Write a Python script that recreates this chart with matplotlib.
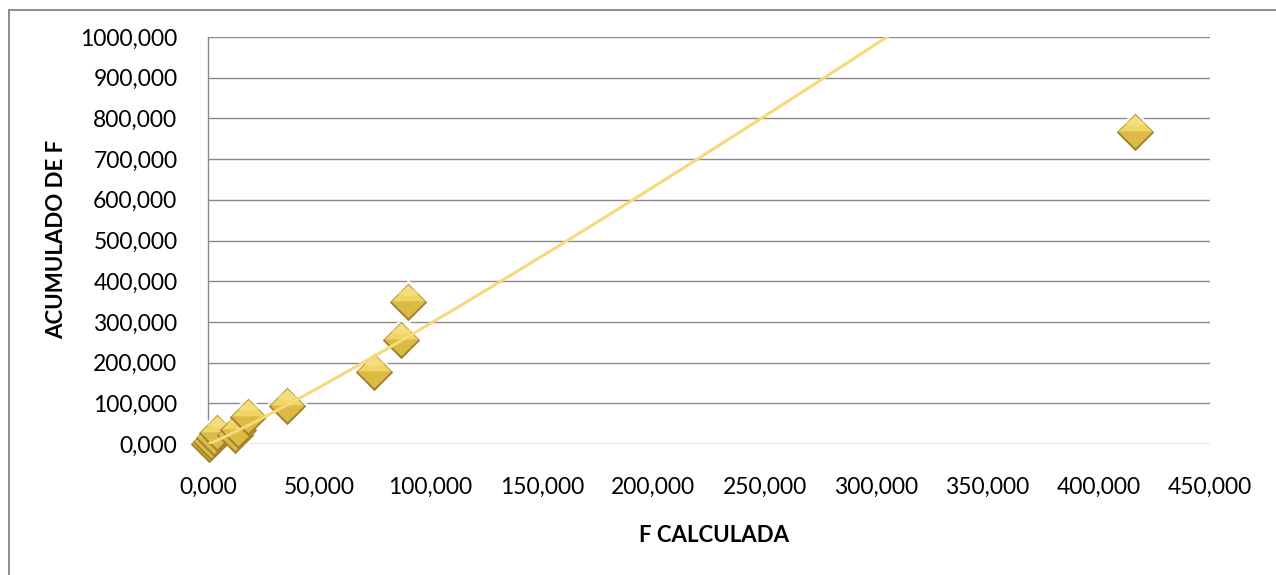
#!/usr/bin/env python3
"""
F calculada vs acumulado de F -- scatter with gold bevelled diamonds and a
power trendline, spreadsheet style.

Output: out.png
"""
import numpy as np
import matplotlib
matplotlib.use("Agg")
import matplotlib.pyplot as plt
from matplotlib.patches import Rectangle
from matplotlib.ticker import FuncFormatter, MultipleLocator

plt.rcParams.update({
    "font.family": ["Lato", "DejaVu Sans"],
    "font.size":   17,
})

GRID_GRAY   = "#8a8a8a"
FRAME_GRAY  = "#8c8c8c"
TREND_GOLD  = "#f7d87a"
RIM_GOLD    = "#a4832a"
LOW_GOLD    = "#dcba46"
TOP_GOLD    = "#f0d562"
SHINE_GOLD  = "#f7e288"

# ---------------------------------------------------------------------------
# data
# ---------------------------------------------------------------------------
F_CALCULADA = [0.3, 1.2, 2.5, 4.0, 12.0, 13.5, 18.0, 35.5, 74.6, 86.7, 89.8, 416.3]
ACUMULADO_F = [1.0, 6.0, 14.0, 28.0, 22.0, 35.0, 66.0, 93.4, 177.0, 255.5, 349.0, 766.0]

# power trendline y = a * x^b
TREND_A = 1.96
TREND_B = 1.09

X_MAX, X_STEP = 450, 50
Y_MAX, Y_STEP = 1000, 100

MS = 27.0   # diamond diagonal, points


def comma_fmt(v, _pos):
    return f"{v:.3f}".replace(".", ",")


def diamond_layer(ax, xs, ys, verts, color, zorder, scale=1.0, alpha=1.0):
    # custom marker paths are normalised by their largest coordinate, so the
    # size is rescaled to keep every layer on the same unit grid
    verts = np.asarray(verts, float)
    size = MS * scale * np.abs(verts).max()
    ax.plot(xs, ys, ls="none", marker=verts, markersize=size,
            markerfacecolor=color, markeredgewidth=0, alpha=alpha,
            zorder=zorder, clip_on=False)


def main():
    fig = plt.figure(figsize=(12.76, 5.75), dpi=100, facecolor="white")
    ax = fig.add_axes([208 / 1276, 1 - 444 / 575, 1002 / 1276, 407 / 575])

    # outer chart frame (runs off the right and bottom edges)
    fig.patches.append(Rectangle((8.5 / 1276, -0.1), 1.2, (575 - 9.5) / 575 + 0.1,
                                 transform=fig.transFigure, fill=False,
                                 edgecolor=FRAME_GRAY, lw=1.4))

    ax.set_xlim(0, X_MAX)
    ax.set_ylim(0, Y_MAX)
    ax.xaxis.set_major_locator(MultipleLocator(X_STEP))
    ax.yaxis.set_major_locator(MultipleLocator(Y_STEP))
    ax.xaxis.set_major_formatter(FuncFormatter(comma_fmt))
    ax.yaxis.set_major_formatter(FuncFormatter(comma_fmt))
    ax.tick_params(length=0, labelsize=16.5, colors="black")
    ax.tick_params(axis="x", pad=24)
    ax.tick_params(axis="y", pad=22)

    for sp in ("top", "right", "bottom"):
        ax.spines[sp].set_visible(False)
    ax.spines["left"].set_color(GRID_GRAY)
    ax.spines["left"].set_linewidth(1.0)
    ax.grid(axis="y", color=GRID_GRAY, lw=1.0, zorder=0)
    ax.set_axisbelow(True)

    xs = np.asarray(F_CALCULADA)
    ys = np.asarray(ACUMULADO_F)

    # soft white halo under each marker
    halo = [(-1, 0), (0, 1), (1, 0), (0, -1)]
    diamond_layer(ax, xs, ys, halo, "white", 3, scale=1.2, alpha=0.85)

    # bevelled diamond: dark rim, darker lower face, lighter upper face
    rim = [(-1, 0), (0, 1), (1, 0), (0, -1)]
    low = [(-0.9, 0.04), (0.9, 0.04), (0, -0.84)]
    top = [(-0.9, 0.04), (0, 0.94), (0.9, 0.04)]
    shine = [(-0.55, 0.45), (0, 0.9), (0.55, 0.45), (0, 0.3)]
    for i in range(len(xs)):
        z = 4 + i * 0.01
        diamond_layer(ax, xs[i], ys[i], rim, RIM_GOLD, z)
        diamond_layer(ax, xs[i], ys[i], low, LOW_GOLD, z + 0.002)
        diamond_layer(ax, xs[i], ys[i], top, TOP_GOLD, z + 0.004)
        diamond_layer(ax, xs[i], ys[i], shine, SHINE_GOLD, z + 0.006, alpha=0.7)

    # power trendline across the data range
    t = np.geomspace(xs.min(), xs.max(), 400)
    ax.plot(t, TREND_A * t ** TREND_B, color=TREND_GOLD, lw=2.2, zorder=6,
            solid_capstyle="butt")

    fig.text(714 / 1276, 1 - 535 / 575, "F CALCULADA", ha="center", va="center",
             fontsize=16, fontweight="bold")
    fig.text(57 / 1276, 1 - 239 / 575, "ACUMULADO DE F", ha="center", va="center",
             rotation=90, fontsize=16, fontweight="bold")

    fig.savefig("out.png", dpi=100, facecolor="white")
    plt.close(fig)


if __name__ == "__main__":
    main()
